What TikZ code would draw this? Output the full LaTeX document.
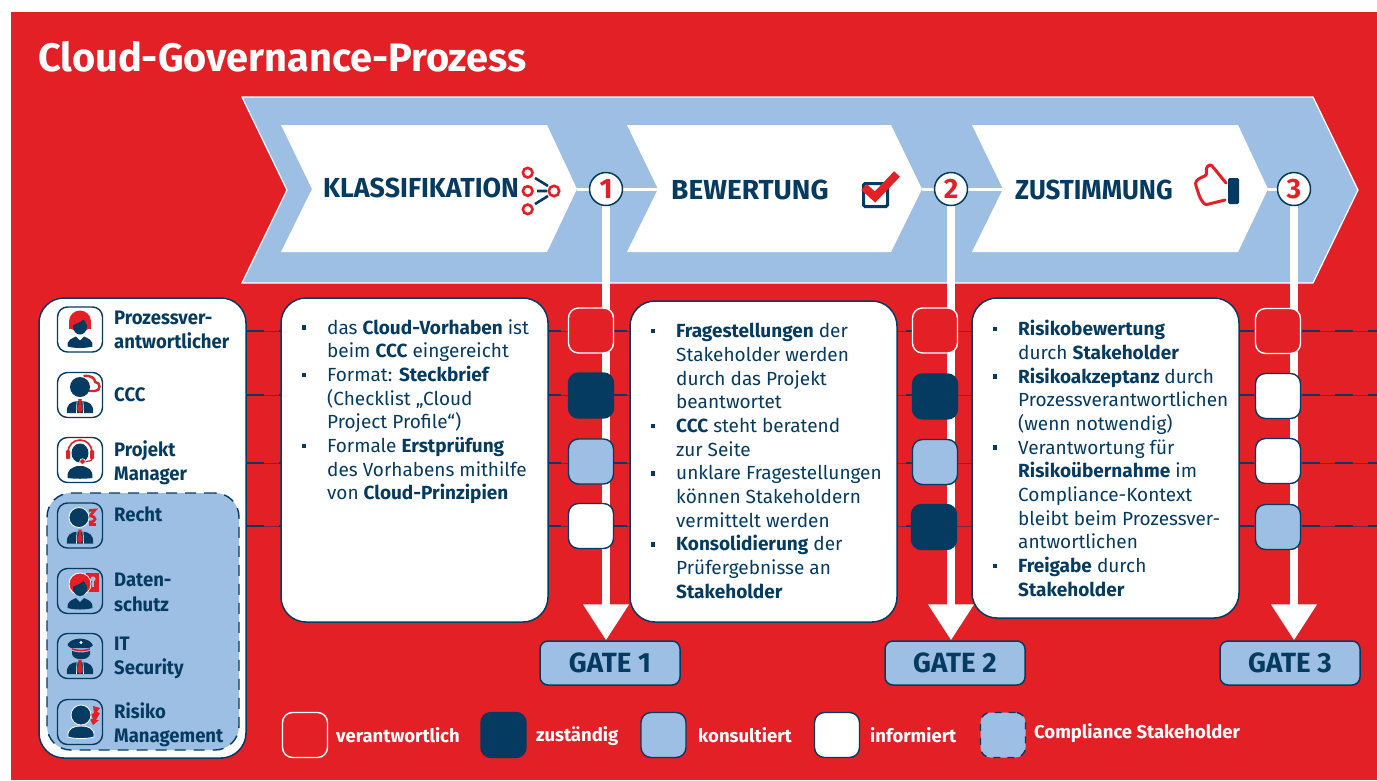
\documentclass[tikz,border=0pt]{standalone}
\usepackage{fontspec}
\setmainfont{Fira Sans}
\newfontfamily\narf{Fira Sans}[FakeStretch=0.95]
\usetikzlibrary{arrows.meta}
\definecolor{rd}{HTML}{E32026}
\definecolor{nv}{HTML}{053B60}
\definecolor{lb}{HTML}{9DBFE4}
\newcommand{\fs}[2]{\fontsize{#1}{#2}\selectfont}
\newcommand{\bul}{\leavevmode\llap{\rule[0.22em]{4.5pt}{4.5pt}\hspace{21pt}}}
\tikzset{
 x=1pt,y=-1pt,
 sqbase/.style={rounded corners=10pt,minimum width=45pt,minimum height=45pt,inner sep=0pt,line width=1.4pt},
 sqr/.style={sqbase,draw=white,fill=rd},
 sqd/.style={sqbase,draw=nv,fill=nv},
 sqb/.style={sqbase,draw=nv,fill=lb},
 sqw/.style={sqbase,draw=nv,fill=white},
 icbox/.style={sqbase,draw=nv,fill=none},
 sqc/.style={sqbase,draw=nv,fill=lb,dashed,dash pattern=on 7pt off 7pt},
 tbox/.style={draw=nv,fill=white,line width=1.5pt,rounded corners=25pt,inner sep=0pt,minimum width=267pt},
 gatebox/.style={draw=nv,fill=lb,line width=1.5pt,rounded corners=8pt,inner sep=0pt,minimum width=140pt,minimum height=44pt,text=nv,font=\fs{27.8}{30}\bfseries},
 gcirc/.style={circle,draw=nv,fill=white,line width=1.5pt,minimum size=33pt,inner sep=0pt,text=rd,font=\fs{28}{30}\bfseries},
 body/.style={anchor=north west,align=left,inner sep=0pt,text=nv,font=\fs{19}{23.7}},
 lbl/.style={anchor=west,align=left,inner sep=0pt,text=nv,font=\narf\fs{19.5}{24.4}\bfseries},
 head/.style={anchor=west,inner sep=0pt,text=nv,font=\fs{27.5}{30}\bfseries},
 leg/.style={anchor=west,inner sep=0pt,text=white,font=\fs{18.5}{22}\bfseries},
 rowline/.style={draw=nv,line width=1.4pt,dash pattern=on 18pt off 15pt},
 rowthin/.style={draw=nv,opacity=.55,line width=.5pt},
 conn/.style={draw=white,line width=3pt},
 gatearrow/.style={draw=white,line width=8pt,-{Triangle[length=36pt,width=44pt,fill=white]}},
 np/.style={draw=rd,line width=2.6pt,fill=white},
 ntl/.style={draw=nv,line width=2.6pt},
}
\newcommand{\torso}{\fill[nv] (-13,18) .. controls (-14,9) and (-9,7) .. (-3,6) -- (3,6) .. controls (9,7) and (14,9) .. (13,18) -- cycle;}
\newcommand{\tie}{\fill[rd] (-1.8,4) -- (1.8,4) -- (1.2,8) -- (2.6,15) -- (0,18) -- (-2.6,15) -- (-1.2,8) -- cycle;
 \draw[white,line width=.7pt] (-3,6) -- (-3.5,18) (3,6) -- (3.5,18);}
\newcommand{\womanbody}{\fill[nv] (-12.5,17) .. controls (-13,10) and (-8,9) .. (-4,7) -- (0,11) -- (4,7) .. controls (8,9) and (13,10) .. (12.5,17) .. controls (5,19) and (-5,19) .. (-12.5,17) -- cycle;}
\begin{document}
\begin{tikzpicture}
\useasboundingbox (0,0) rectangle (1377,780);
\fill[white] (0,0) rectangle (1377,780);
\fill[rd] (11,12) rectangle (1377,780);
\node[anchor=west,inner sep=0pt,text=white,font=\fs{39.7}{42}\bfseries] (title) at (38,57) {Cloud-Governance-Prozess};
% big chevron
\draw[white,line width=1.2pt,fill=lb] (242,97) -- (1313,97) -- (1358,190) -- (1313,283) -- (242,283) -- (287,190) -- cycle;
\fill[white] (281,125) -- (547,125) -- (577,189) -- (547,252) -- (281,252) -- (312,189) -- cycle;
\fill[white] (627,125) -- (891,125) -- (922,189) -- (891,252) -- (627,252) -- (658,189) -- cycle;
\fill[white] (972,125) -- (1238,125) -- (1268,189) -- (1238,252) -- (972,252) -- (1003,189) -- cycle;
\coordinate (t1) at (577,189); \coordinate (n2) at (658,189);
\coordinate (t2) at (922,189); \coordinate (n3) at (1003,189);
\coordinate (t3) at (1268,189);
\node[gatebox] (g1) at (610,663) {GATE 1};
\node[gatebox] (g2) at (955,663) {GATE 2};
\node[gatebox] (g3) at (1290,663) {GATE 3};
\coordinate (a1s) at (606,189); \coordinate (a2s) at (951,189); \coordinate (a3s) at (1294,189);
\draw[conn] (t1) -- (n2); \draw[conn] (t2) -- (n3); \draw[conn] (t3) -- (a3s);
\draw[gatearrow] (a1s) -- (a1s |- g1.north);
\draw[gatearrow] (a2s) -- (a2s |- g2.north);
\draw[gatearrow] (a3s) -- (a3s |- g3.north);
\node[gcirc] (c1) at (a1s) {1};
\node[gcirc] (c2) at (a2s) {2};
\node[gcirc] (c3) at (a3s) {3};
% header text
\node[head] (h1) at (323,188) {\scalebox{.975}[1]{KLASSIFIKATION}};
\node[head] (h2) at (671,190) {\scalebox{1.02}[1]{BEWERTUNG}};
\node[head] (h3) at (1015,190) {\scalebox{.94}[1]{ZUSTIMMUNG}};
% network icon
\draw[ntl] (535,178) -- (548,186) (537,191) -- (547,191) (535,204) -- (548,196);
\draw[np] (527.7,172.7) circle[radius=4.8pt] (527.7,191) circle[radius=4.8pt] (527.7,209.3) circle[radius=4.8pt] (554,191) circle[radius=5.2pt];
% check icon
\draw[nv,line width=3pt,rounded corners=1.5pt] (863.5,183.5) rectangle (887.5,206.5);
\draw[rd,line width=8pt,line join=miter] (864,187) -- (875,197) -- (897,174);
% thumb icon
\fill[nv,rounded corners=1.5pt] (1228,178) rectangle (1239,204);
\draw[rd,line width=3pt,line cap=round,line join=round,rounded corners=2.5pt] (1226,183) -- (1213,167) -- (1210,164) -- (1206,168) -- (1207,175) -- (1198,179) -- (1195,183) -- (1200,198) -- (1205,205) -- (1225,200);
% row lines
\coordinate (r1a) at (246,331); \coordinate (r1b) at (1377,331);
\coordinate (r2a) at (246,395); \coordinate (r2b) at (1377,395);
\coordinate (r3a) at (246,463); \coordinate (r3b) at (1377,463);
\coordinate (r4a) at (246,526); \coordinate (r4b) at (1377,526);
\draw[rowthin] (r1a) -- (r1b); \draw[rowthin] (r2a) -- (r2b);
\draw[rowthin] (r3a) -- (r3b); \draw[rowthin] (r4a) -- (r4b);
\draw[rowline] (r1a) -- (r1b); \draw[rowline] (r2a) -- (r2b);
\draw[rowline] (r3a) -- (r3b); \draw[rowline] (r4a) -- (r4b);
% left panel
\node[tbox,minimum width=207pt,minimum height=460pt] (panel) at (142.5,528) {};
\node[sqc,rounded corners=24pt,minimum width=192pt,minimum height=257pt,dash pattern=on 11pt off 8pt] (comp) at (143,621.5) {};
% text boxes
\node[tbox,minimum height=324pt] (ba) at (414.5,460) {};
\node[tbox,minimum height=321pt] (bb) at (763.5,461.5) {};
\node[tbox,minimum height=320pt] (bc) at (1105.5,458) {};
\node[body] (ta) at (327,319) {\bul das \textbf{Cloud-Vorhaben} ist\\beim \textbf{CCC} eingereicht\\\bul Format: \textbf{Steckbrief}\\(Checklist „Cloud\\Project Profile“)\\\bul Formale \textbf{Erstprüfung}\\des Vorhabens mithilfe\\von \textbf{Cloud-Prinzipien}};
\node[body] (tb) at (676,323) {\bul \textbf{Fragestellungen} der\\Stakeholder werden\\durch das Projekt\\beantwortet\\\bul \textbf{CCC} steht beratend\\zur Seite\\\bul unklare Fragestellungen\\können Stakeholdern\\vermittelt werden\\\bul \textbf{Konsolidierung} der\\Prüfergebnisse an\\\textbf{Stakeholder}};
\node[body] (tc) at (1018,320) {\bul \textbf{Risikobewertung}\\durch \textbf{Stakeholder}\\\bul \textbf{Risikoakzeptanz} durch\\Prozessverantwortlichen\\(wenn notwendig)\\\bul Verantwortung für\\\textbf{Risikoübernahme} im\\Compliance-Kontext\\bleibt beim Prozessver-\\antwortlichen\\\bul \textbf{Freigabe} durch\\\textbf{Stakeholder}};
% status squares
\node[sqr] (a1) at (591,330.5) {}; \node[sqd] (a2) at (591,395.5) {}; \node[sqb] (a3) at (591,461.5) {}; \node[sqw] (a4) at (591,526) {};
\node[sqr] (b1) at (935,330.5) {}; \node[sqd] (b2) at (935,396.5) {}; \node[sqb] (b3) at (935,462) {}; \node[sqd] (b4) at (934,527) {};
\node[sqr] (c1s) at (1278,331) {}; \node[sqw] (c2s) at (1278,396) {}; \node[sqw] (c3s) at (1278,461) {}; \node[sqb] (c4s) at (1278,527) {};
% persons
\node[icbox] (i1) at (80,329.5) {};
\node[icbox] (i2) at (80,395) {};
\node[icbox] (i3) at (80,460) {};
\node[icbox] (i4) at (80,525.5) {};
\node[icbox] (i5) at (80,591) {};
\node[icbox] (i6) at (80,656) {};
\node[icbox] (i7) at (80,722) {};
\begin{scope}[shift={(i1.center)}]
 \fill[rd] (0,-8) circle[radius=11pt];
 \fill[rd] (-11,-8) rectangle (11,-1);
 \fill[nv] (0,-3) ellipse[x radius=7pt,y radius=8pt];
 \fill[rd] (-8,-4) .. controls (-3,-6) and (2,-8) .. (4,-11) .. controls (5,-8) and (6,-6) .. (8,-4) -- (8,-14) -- (-8,-14) -- cycle;
 \womanbody
\end{scope}
\begin{scope}[shift={(i2.center)}]
 \draw[rd,line width=2.4pt] (3.5,-19) .. controls (12,-20) and (15,-16) .. (15,-13) .. controls (21,-13) and (21,-4) .. (15,-4) -- (9,-4);
 \fill[nv] (0,-8) circle[radius=10pt];
 \torso \tie
\end{scope}
\begin{scope}[shift={(i3.center)}]
 \draw[rd,line width=1.6pt] (-12,-8) arc[start angle=180,end angle=0,radius=12pt];
 \fill[rd,rounded corners=1pt] (-14,-10) rectangle (-10,-1);
 \fill[rd,rounded corners=1pt] (10,-10) rectangle (14,-1);
 \fill[nv] (0,-7) ellipse[x radius=8.5pt,y radius=9.5pt];
 \fill[nv] (-12.5,18) .. controls (-13,9) and (-8,8) .. (-3,6) -- (3,6) .. controls (8,8) and (13,9) .. (12.5,18) .. controls (5,19) and (-5,19) .. (-12.5,18) -- cycle;
 \draw[rd,line width=1.2pt] (12,-1) .. controls (12,1) and (8,1.5) .. (3,1.5);
 \fill[rd,draw=white,line width=.6pt] (2.5,1.5) circle[radius=2.8pt];
\end{scope}
\begin{scope}[shift={(i4.center)}]
 \draw[rd,line width=2.6pt] (9,-15) -- (15,-15.5) -- (10,-9.5) .. controls (17,-9.5) and (17,-3) .. (9,-3.5);
 \draw[rd,line width=2.6pt] (9,-1) -- (16,-1);
 \fill[nv,draw=white,line width=.8pt] (-1,-8) circle[radius=10pt];
 \torso \tie
\end{scope}
\begin{scope}[shift={(i5.center)}]
 \fill[rd] (6,-18) rectangle (19,1);
 \fill[lb] (13,-12) circle[radius=2.6pt]; \fill[lb] (11.8,-12) rectangle (14.2,-4);
 \fill[rd,draw=white,line width=.8pt] (0,-7) circle[radius=11pt];
 \fill[nv] (0,-3) ellipse[x radius=7pt,y radius=8pt];
 \fill[rd] (-8,-4) .. controls (-3,-6) and (2,-8) .. (4,-11) .. controls (5,-8) and (6,-6) .. (8,-4) -- (8,-14) -- (-8,-14) -- cycle;
 \womanbody
\end{scope}
\begin{scope}[shift={(i6.center)}]
 \fill[nv] (-9,-8) .. controls (-13,-10) and (-13,-12) .. (-12,-12.5) .. controls (-7,-19) and (7,-19) .. (12,-12.5) .. controls (14,-11) and (13,-10) .. (9,-8) -- cycle;
 \fill[white] (1,-13.5) circle[radius=1.6pt];
 \draw[rd,line width=1.6pt] (-8,-7) .. controls (-3,-5) and (5,-5) .. (10,-7);
 \fill[nv] (-8,-5) .. controls (-3,-3) and (5,-3) .. (10,-5) -- (10,-2) .. controls (9,5) and (-7,5) .. (-8,-2) -- cycle;
 \torso \tie
\end{scope}
\begin{scope}[shift={(i7.center)}]
 \fill[rd] (13,-16) -- (20,-14) -- (17,-10) -- (20,-9) -- (16,-2) -- (19,-2) -- (13,3) -- (10,-3) -- (13,-3) -- (11,-8) -- (14,-9) -- cycle;
 \fill[nv,draw=white,line width=.8pt] (1,-7) circle[radius=10pt];
 \fill[nv,draw=white,line width=.8pt] (-12,15) .. controls (-13,6) and (-6,4) .. (1,4) .. controls (8,4) and (15,6) .. (14,15) .. controls (8,17) and (-6,17) .. (-12,15) -- cycle;
\end{scope}
% labels
\node[lbl] (l1) at (114,330) {Prozessver-\\antwortlicher};
\node[lbl] (l2) at (114,395) {CCC};
\node[lbl] (l3) at (114,462.5) {Projekt\\Manager};
\node[lbl] (l4) at (114,514) {Recht};
\node[lbl] (l5) at (114,592.5) {Daten-\\schutz};
\node[lbl] (l6) at (114,658) {IT\\Security};
\node[lbl] (l7) at (114,724.5) {Risiko\\Management};
% legend
\node[sqbase,draw=white,fill=rd] (k1) at (305,735) {}; \node[leg] (kt1) at (336,735) {verantwortlich};
\node[sqd] (k2) at (503.5,735) {}; \node[leg] (kt2) at (536,736) {zuständig};
\node[sqb] (k3) at (663.5,735) {}; \node[leg] (kt3) at (698,735) {konsultiert};
\node[sqw] (k4) at (837,735) {}; \node[leg] (kt4) at (870,735) {informiert};
\node[sqc] (k5) at (1003,735) {}; \node[leg] (kt5) at (1034,733) {Compliance Stakeholder};
\end{tikzpicture}
\end{document}
